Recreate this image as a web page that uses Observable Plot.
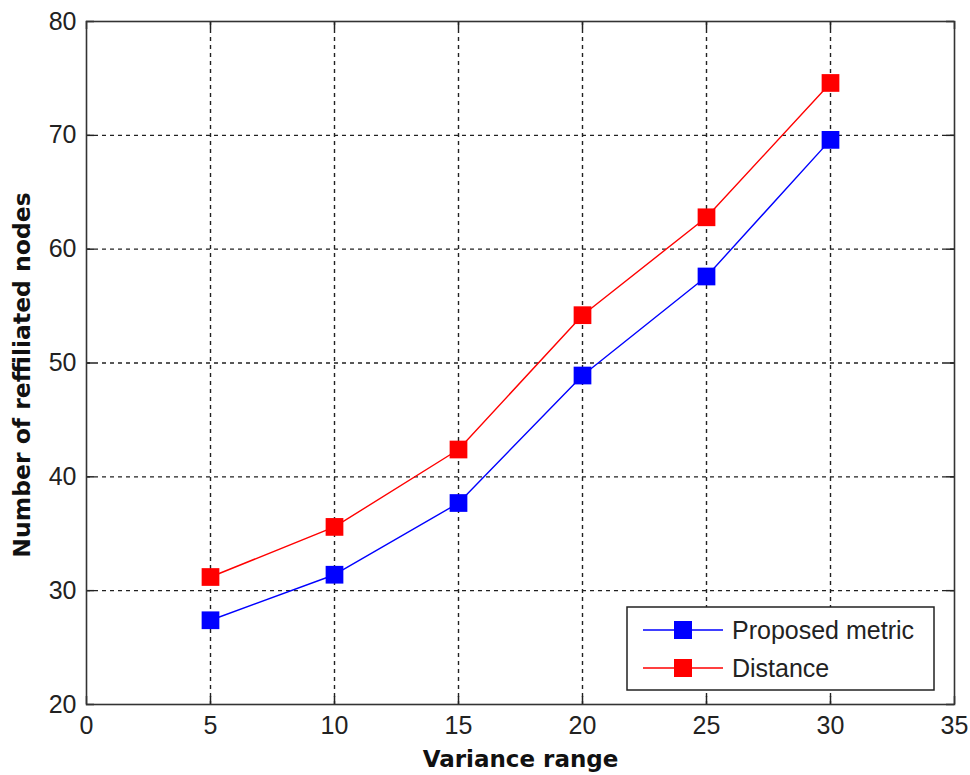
<!DOCTYPE html>
<html>
<head>
<meta charset="utf-8">
<script src="https://cdn.jsdelivr.net/npm/d3@7"></script>
<script src="https://cdn.jsdelivr.net/npm/@observablehq/plot@0.6"></script>
<style>
  html, body { margin: 0; padding: 0; background: #fff; }
  #chart { width: 970px; height: 775px; }
</style>
</head>
<body>
<div id="chart"></div>
<script>
const varianceRange = [5, 10, 15, 20, 25, 30];
const proposedMetric = [27.4, 31.4, 37.7, 48.9, 57.6, 69.6];
const distance = [31.2, 35.6, 42.4, 54.2, 62.8, 74.6];
const seriesNames = ["Proposed metric", "Distance"];
const seriesColors = ["#0000ff", "#ff0000"];
const xTicks = [0, 5, 10, 15, 20, 25, 30, 35];
const yTicks = [20, 30, 40, 50, 60, 70, 80];
const xLabel = "Variance range";
const yLabel = "Number of reffiliated nodes";

const data = [];
varianceRange.forEach((x, i) => {
  data.push({x, y: proposedMetric[i], s: seriesNames[0]});
  data.push({x, y: distance[i], s: seriesNames[1]});
});

const W = 970, H = 775, mL = 86, mR = 16, mT = 21, mB = 71;
const innerW = W - mL - mR, innerH = H - mT - mB;
const tickLen = 8;
const tickFont = "'Liberation Sans', Arial, sans-serif";
const labelFont = "'DejaVu Sans', sans-serif";

const chart = Plot.plot({
  width: W, height: H,
  marginLeft: mL, marginRight: mR, marginTop: mT, marginBottom: mB,
  style: {fontFamily: tickFont, background: "#fff", color: "#222"},
  x: {domain: [0, 35], ticks: xTicks},
  y: {domain: [20, 80], ticks: yTicks},
  color: {domain: seriesNames, range: seriesColors},
  marks: [
    Plot.ruleX(xTicks.slice(1, -1), {stroke: "#222", strokeWidth: 1.4, strokeDasharray: "4,4"}),
    Plot.ruleY(yTicks.slice(1, -1), {stroke: "#222", strokeWidth: 1.4, strokeDasharray: "4,4"}),
    Plot.tickX(xTicks, {x: d => d, stroke: "#222", strokeWidth: 1.5, insetTop: innerH - tickLen}),
    Plot.tickX(xTicks, {x: d => d, stroke: "#222", strokeWidth: 1.5, insetBottom: innerH - tickLen}),
    Plot.tickY(yTicks, {y: d => d, stroke: "#222", strokeWidth: 1.5, insetRight: innerW - tickLen}),
    Plot.tickY(yTicks, {y: d => d, stroke: "#222", strokeWidth: 1.5, insetLeft: innerW - tickLen}),
    Plot.frame({stroke: "#333", strokeWidth: 1.6}),
    Plot.axisX({ticks: xTicks, tickSize: 0, tickPadding: 12, fontSize: 25, label: null, fill: "#222"}),
    Plot.axisY({ticks: yTicks, tickSize: 0, tickPadding: 10, fontSize: 25, label: null, fill: "#222"}),
    Plot.text([xLabel], {frameAnchor: "bottom", dy: 55, lineAnchor: "middle", textAnchor: "middle", fontSize: 23, fontWeight: "bold", fontFamily: labelFont, fill: "#111"}),
    Plot.text([yLabel], {frameAnchor: "left", dx: -64, dy: 12, rotate: -90, textAnchor: "middle", lineAnchor: "middle", fontSize: 23.5, fontWeight: "bold", fontFamily: labelFont, fill: "#111"}),
    Plot.line(data, {x: "x", y: "y", stroke: "s", strokeWidth: 1.4}),
    Plot.dot(data, {x: "x", y: "y", fill: "s", symbol: "square", r: 10, stroke: "none"})
  ]
});

document.getElementById("chart").appendChild(chart);

// Legend inside the plot area (lower right)
const svg = d3.select(chart);
const lg = svg.append("g").attr("transform", "translate(627,607)");
lg.append("rect").attr("width", 307).attr("height", 83)
  .attr("fill", "#fff").attr("stroke", "#222").attr("stroke-width", 1.5);
seriesNames.forEach((name, i) => {
  const cy = 23 + i * 38;
  lg.append("line").attr("x1", 16).attr("x2", 96).attr("y1", cy).attr("y2", cy)
    .attr("stroke", seriesColors[i]).attr("stroke-width", 1.4);
  lg.append("rect").attr("x", 56 - 9).attr("y", cy - 9).attr("width", 18).attr("height", 18)
    .attr("fill", seriesColors[i]);
  lg.append("text").attr("x", 105).attr("y", cy).attr("dy", "0.35em")
    .attr("text-anchor", "start")
    .attr("font-family", tickFont).attr("font-size", 25).attr("fill", "#222").text(name);
});
</script>
</body>
</html>
